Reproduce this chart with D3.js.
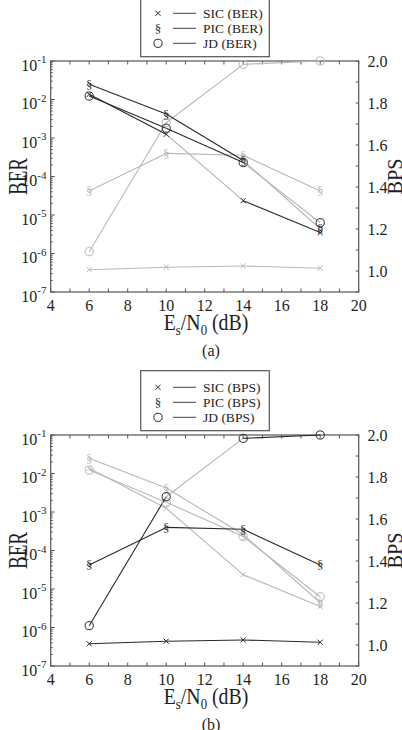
<!DOCTYPE html>
<html><head><meta charset="utf-8">
<script src="https://cdn.jsdelivr.net/npm/d3@7"></script>
<style>body{margin:0;background:#fff}svg{display:block}</style>
</head><body>
<svg id="c" width="402" height="730" font-family="'Liberation Serif','Times New Roman',Tinos,serif"></svg>
<script>
// ---- data ----
const snr = [6, 10, 14, 18];
const xTicks = [4, 6, 8, 10, 12, 14, 16, 18, 20];
const berExponents = [-1, -2, -3, -4, -5, -6, -7];
const bpsTicks = [1.0, 1.2, 1.4, 1.6, 1.8, 2.0];
const sicBER = [0.0136, 1.25e-3, 2.36e-5, 3.5e-6];
const picBER = [0.0248, 4.2e-3, 2.6e-4, 4.4e-6];
const jdBER  = [0.0123, 1.8e-3, 2.3e-4, 6.3e-6];
const sicBPS = [1.006, 1.018, 1.024, 1.013];
const picBPS = [1.381, 1.560, 1.551, 1.381];
const jdBPS  = [1.092, 1.706, 1.984, 2.000];
const schemes = ["SIC", "PIC", "JD"];
const markers = ["cross", "section", "circle"];
const panelNames = ["(a)", "(b)"];
const highlighted = ["BER", "BPS"];
// segments of the highlighted metric that appear grey in the reference [scheme index, segment start index]
const greySegments = [[[0, 1], [1, 2], [2, 2]], [[2, 1]]];

const svg = d3.select("#c");
const DARK = "#2a2a2a", LIGHT = "#b8b8b8", AXIS = "#555", TXT = "#1e1e1e";
const L = 50.7, R = 358.7;
const x = d3.scaleLinear().domain([4, 20]).range([L, R]);

function drawMarker(g, type, cx, cy, color, s) {
  if (type === "cross") {
    const d = s;
    g.append("path").attr("d", `M${cx-d},${cy-d}L${cx+d},${cy+d}M${cx-d},${cy+d}L${cx+d},${cy-d}`)
      .attr("stroke", color).attr("stroke-width", 1).attr("fill", "none");
  } else if (type === "circle") {
    g.append("circle").attr("cx", cx).attr("cy", cy).attr("r", s + 1.5)
      .attr("stroke", color).attr("stroke-width", 1).attr("fill", "none");
  } else {
    g.append("text").attr("x", cx).attr("y", cy + 4.5).attr("text-anchor", "middle")
      .attr("font-size", 13).attr("fill", color).text("§");
  }
}

function panel(idx, top) {
  const bottom = top + 231;
  const g = svg.append("g").attr("fill", TXT);
  const yBER = d3.scaleLog().domain([1e-7, 1e-1]).range([bottom, top]);
  const yBPS = d3.scaleLinear().domain([0.9, 2.0]).range([bottom, top]);
  const hi = highlighted[idx];

  g.append("rect").attr("x", L).attr("y", top).attr("width", R - L).attr("height", bottom - top)
    .attr("fill", "none").attr("stroke", AXIS).attr("stroke-width", 1.2);

  d3.range(4, 20.01, 1).forEach(v => {
    const len = 3.5;
    g.append("line").attr("x1", x(v)).attr("x2", x(v)).attr("y1", bottom).attr("y2", bottom - len).attr("stroke", AXIS);
    g.append("line").attr("x1", x(v)).attr("x2", x(v)).attr("y1", top).attr("y2", top + len).attr("stroke", AXIS);
  });
  xTicks.forEach(v => {
    g.append("text").attr("x", x(v)).attr("y", bottom + 18.5).attr("text-anchor", "middle")
      .attr("font-size", 16).text(v);
  });

  berExponents.forEach(e => {
    const yy = yBER(Math.pow(10, e));
    g.append("line").attr("x1", L).attr("x2", L + 4).attr("y1", yy).attr("y2", yy).attr("stroke", AXIS);
    const t = g.append("text").attr("x", 46.5).attr("y", yy + 9.5).attr("text-anchor", "end").attr("font-size", 16);
    t.append("tspan").text("10");
    t.append("tspan").attr("dy", -7.5).attr("font-size", 11).text(e);
    if (e > -7) {
      for (let k = 2; k <= 9; k++) {
        const ym = yBER(k * Math.pow(10, e - 1));
        g.append("line").attr("x1", L).attr("x2", L + 2).attr("y1", ym).attr("y2", ym).attr("stroke", AXIS);
      }
    }
  });

  d3.range(0.9, 2.001, 0.1).forEach(v => {
    const yy = yBPS(v);
    g.append("line").attr("x1", R).attr("x2", R - 3).attr("y1", yy).attr("y2", yy).attr("stroke", AXIS);
  });
  bpsTicks.forEach(v => {
    g.append("text").attr("x", 367.5).attr("y", yBPS(v) + 5.5).attr("font-size", 16).text(v.toFixed(1));
  });

  g.append("text").attr("transform", `translate(27,${(top + bottom) / 2}) rotate(-90)`)
    .attr("text-anchor", "middle").attr("font-size", 27).attr("textLength", 37).attr("lengthAdjust", "spacingAndGlyphs").text("BER");
  g.append("text").attr("transform", `translate(401.5,${(top + bottom) / 2}) rotate(-90)`)
    .attr("text-anchor", "middle").attr("font-size", 22).attr("textLength", 36).attr("lengthAdjust", "spacingAndGlyphs").text("BPS");
  const xt = g.append("text").attr("transform", `translate(206,${bottom + 38}) scale(0.86,1)`)
    .attr("text-anchor", "middle").attr("font-size", 23);
  xt.append("tspan").text("E");
  xt.append("tspan").attr("dy", 5).attr("font-size", 15).text("s");
  xt.append("tspan").attr("dy", -5).text("/N");
  xt.append("tspan").attr("dy", 5).attr("font-size", 15).text("0");
  xt.append("tspan").attr("dy", -5).text(" (dB)");
  g.append("text").attr("x", 211).attr("y", bottom + 64).attr("text-anchor", "middle").attr("font-size", 16).text(panelNames[idx]);

  // series drawn segment by segment
  const sets = { BER: [sicBER, picBER, jdBER], BPS: [sicBPS, picBPS, jdBPS] };
  const scales = { BER: yBER, BPS: yBPS };
  const grey = new Set(greySegments[idx].map(d => d.join("-")));
  const segs = [];
  ["BER", "BPS"].forEach(metric => {
    sets[metric].forEach((vals, si) => {
      for (let i = 0; i < vals.length - 1; i++) {
        const dark = metric === hi && !grey.has(si + "-" + i);
        segs.push({ metric, si, i, vals, dark });
      }
    });
  });
  const line = d3.line();
  segs.sort((a, b) => a.dark - b.dark).forEach(s => {
    const y = scales[s.metric];
    g.append("path").attr("d", line([[x(snr[s.i]), y(s.vals[s.i])], [x(snr[s.i + 1]), y(s.vals[s.i + 1])]]))
      .attr("fill", "none").attr("stroke", s.dark ? DARK : LIGHT).attr("stroke-width", 1.1);
  });
  ["BPS", "BER"].sort(m => (m === hi ? 1 : -1)).forEach(metric => {
    const color = metric === hi ? DARK : LIGHT;
    sets[metric].forEach((vals, si) => {
      vals.forEach((v, i) => drawMarker(g, markers[si], x(snr[i]), scales[metric](v), color, 2.6));
    });
  });

  const lx = 140.7, ly = top - 64.3;
  g.append("rect").attr("x", lx).attr("y", ly).attr("width", 128.6).attr("height", 60)
    .attr("fill", "#fff").attr("stroke", AXIS).attr("stroke-width", 1.2);
  schemes.forEach((s, i) => {
    const ry = top - 47.7 + i * 15;
    drawMarker(g, markers[i], 158, ry, DARK, 2.6);
    g.append("line").attr("x1", 173).attr("x2", 196).attr("y1", ry).attr("y2", ry).attr("stroke", "#444").attr("stroke-width", 1);
    g.append("text").attr("x", 203).attr("y", ry + 4.5).attr("font-size", 13.5).text(`${s} (${hi})`);
  });
}

panel(0, 61);
panel(1, 435);
</script>
</body></html>
